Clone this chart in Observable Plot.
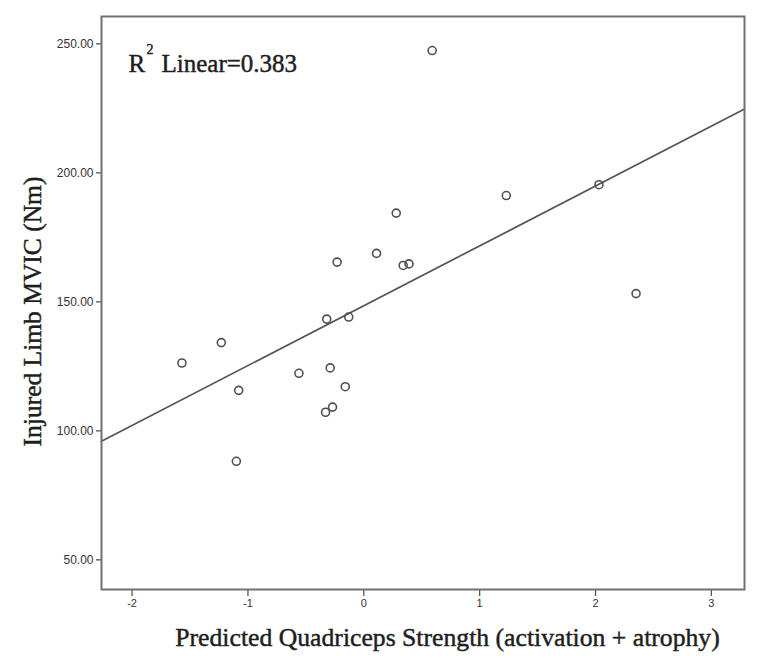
<!DOCTYPE html>
<html>
<head>
<meta charset="utf-8">
<script src="https://cdn.jsdelivr.net/npm/d3@7"></script>
<script src="https://cdn.jsdelivr.net/npm/@observablehq/plot@0.6"></script>
<style>
  html, body { margin: 0; padding: 0; background: #fff; }
  #chart svg { display: block; }
</style>
</head>
<body>
<div id="chart"></div>
<script>
// Predicted quadriceps strength (x) vs injured limb MVIC in Nm (y)
const predictedStrength = [0.59, 2.03, 1.23, 0.28, 0.11, -0.23, 0.34, 0.39, 2.35, -0.32, -0.13, -1.23, -1.57, -0.56, -0.29, -1.08, -0.16, -0.27, -0.33, -1.10];
const injuredMVIC      = [247.4, 195.4, 191.2, 184.4, 168.8, 165.4, 164.1, 164.7, 153.2, 143.3, 144.1, 134.2, 126.3, 122.3, 124.4, 115.7, 117.1, 109.2, 107.2, 88.2];

// Fit line (R² Linear = 0.383)
const fitIntercept = 148.5;
const fitSlope = 23.2;
const rSquared = "0.383";

const xTicks = [-2, -1, 0, 1, 2, 3];
const yTicks = [50, 100, 150, 200, 250];
const xDomain = [-2.264, 3.286];
const yDomain = [38.5, 260.6];

const xLabel = "Predicted Quadriceps Strength (activation + atrophy)";
const yLabel = "Injured Limb MVIC (Nm)";

const points = predictedStrength.map((x, i) => ({x, y: injuredMVIC[i]}));
const fitLine = xDomain.map(x => ({x, y: fitIntercept + fitSlope * x}));

const serif = "'Liberation Serif', 'Times New Roman', serif";
const sans = "'Liberation Sans', Arial, sans-serif";
const ink = "#1e1e1e";
const heavy = {fill: ink, stroke: ink, strokeWidth: 0.45, paintOrder: "fill", fontFamily: serif};

const chart = Plot.plot({
  width: 767,
  height: 669,
  marginLeft: 101,
  marginRight: 23,
  marginTop: 16,
  marginBottom: 80,
  style: {background: "#fff"},
  x: {domain: xDomain},
  y: {domain: yDomain},
  marks: [
    Plot.axisX(xTicks, {tickSize: 7, tickPadding: 3, fontSize: 11, fontFamily: sans, fill: "#333", stroke: "#555", strokeWidth: 1.3, label: null, tickFormat: d => String(d)}),
    Plot.axisY(yTicks, {tickSize: 5, tickPadding: 3, fontSize: 12, fontFamily: sans, fill: "#333", stroke: "#555", strokeWidth: 1.3, label: null, tickFormat: d3.format(".2f")}),
    Plot.line(fitLine, {x: "x", y: "y", stroke: "#555", strokeWidth: 1.7}),
    Plot.dot(points, {x: "x", y: "y", r: 4, stroke: "#505050", strokeWidth: 1.6, fill: "none"}),
    Plot.frame({stroke: "#707070", strokeWidth: 2}),
    Plot.text(["R"], {...heavy, frameAnchor: "top-left", dx: 27, dy: 55, lineAnchor: "bottom", textAnchor: "start", fontSize: 25}),
    Plot.text(["2"], {...heavy, frameAnchor: "top-left", dx: 45, dy: 37, lineAnchor: "bottom", textAnchor: "start", fontSize: 14}),
    Plot.text(["Linear=" + rSquared], {...heavy, frameAnchor: "top-left", dx: 60, dy: 55, lineAnchor: "bottom", textAnchor: "start", fontSize: 25}),
    Plot.text([xLabel], {...heavy, frameAnchor: "bottom", dx: 24.5, dy: 56, lineAnchor: "bottom", textAnchor: "middle", fontSize: 25.7}),
    Plot.text([yLabel], {...heavy, frameAnchor: "left", dx: -69, dy: 8.5, rotate: -90, textAnchor: "middle", fontSize: 25.5})
  ]
});

document.getElementById("chart").appendChild(chart);
</script>
</body>
</html>
